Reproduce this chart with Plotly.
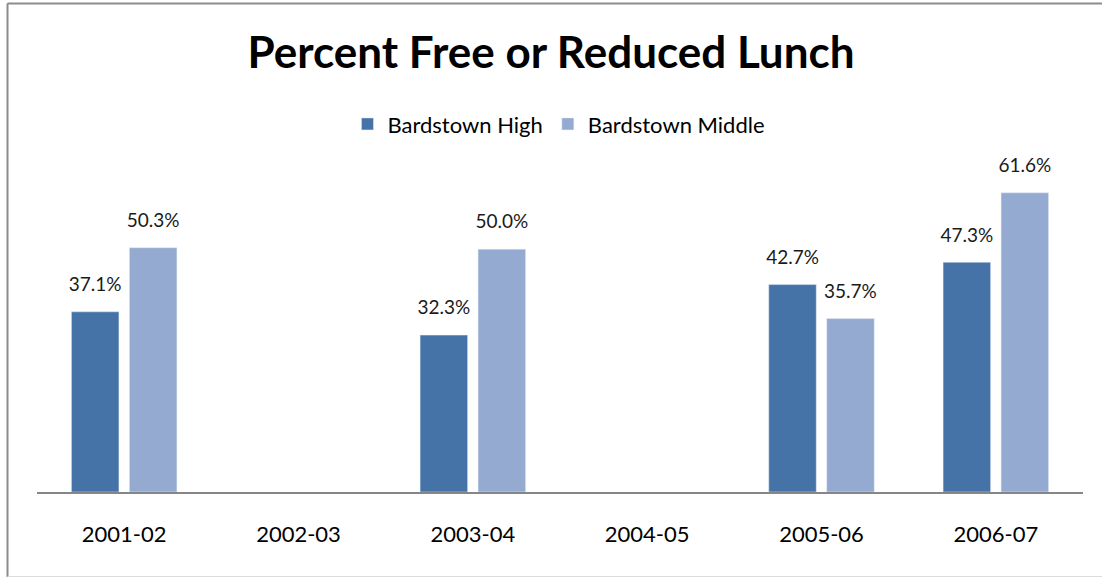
import plotly.graph_objects as go

years = ["2001-02", "2002-03", "2003-04", "2004-05", "2005-06", "2006-07"]
high = [37.1, None, 32.3, None, 42.7, 47.3]
middle = [50.3, None, 50.0, None, 35.7, 61.6]
series = [("Bardstown High", high, "#4572A7"), ("Bardstown Middle", middle, "#95AAD1")]

def labels(vals):
    return [f"{v:.1f}%" if v is not None else "" for v in vals]

FONT = "Lato"
fig = go.Figure()
for name, vals, color in series:
    fig.add_trace(go.Bar(name=name, x=years, y=vals, marker_color=color,
                         offsetgroup=name))
for name, vals, color in series:
    fig.add_trace(go.Scatter(x=years, y=vals, mode="markers+text", text=labels(vals),
                             textposition="top center", offsetgroup=name,
                             marker=dict(size=24, opacity=0), showlegend=False,
                             hoverinfo="skip", cliponaxis=False,
                             textfont=dict(size=19, color="#1a1a1a", family=FONT)))

fig.update_layout(
    width=1102, height=578,
    margin=dict(l=37, r=19, t=152, b=86),
    paper_bgcolor="white", plot_bgcolor="white",
    barmode="group", bargap=0.335, bargroupgap=0.18,
    scattermode="group", scattergap=0.335,
    title=dict(text="<b>Percent Free or Reduced Lunch</b>", x=0.5, xanchor="center",
               y=1 - 53 / 578, yanchor="middle",
               font=dict(family=FONT, size=44, color="black")),
    legend=dict(orientation="h", x=0.499, xanchor="center", y=1.082, yanchor="middle",
                font=dict(family=FONT, size=22, color="black"), traceorder="normal"),
    showlegend=True,
    font=dict(family=FONT),
)
fig.update_xaxes(type="category", showline=True, linecolor="#868686", linewidth=2,
                 ticks="", ticklabelstandoff=22,
                 tickfont=dict(family=FONT, size=22, color="black"), showgrid=False)
fig.update_yaxes(visible=False, range=[0, 70], showgrid=False, zeroline=False)

# chart border (top and left darker, bottom light; right edge is off the picture)
def px_x(v):
    return (v - 37) / 1046

def px_y(v):
    return (492 - v) / 340

fig.add_shape(type="line", xref="paper", yref="paper", x0=px_x(7.5), x1=px_x(1102),
              y0=px_y(3.5), y1=px_y(3.5), line=dict(color="#8c8c8c", width=2), layer="below")
fig.add_shape(type="line", xref="paper", yref="paper", x0=px_x(7.5), x1=px_x(7.5),
              y0=px_y(3.5), y1=px_y(577), line=dict(color="#8c8c8c", width=2), layer="below")
fig.add_shape(type="line", xref="paper", yref="paper", x0=px_x(7.5), x1=px_x(1102),
              y0=px_y(576.5), y1=px_y(576.5), line=dict(color="#dcdcdc", width=1), layer="below")

fig.write_html("out.html", config={"displayModeBar": False},
               post_script="document.body.style.margin='0';")
